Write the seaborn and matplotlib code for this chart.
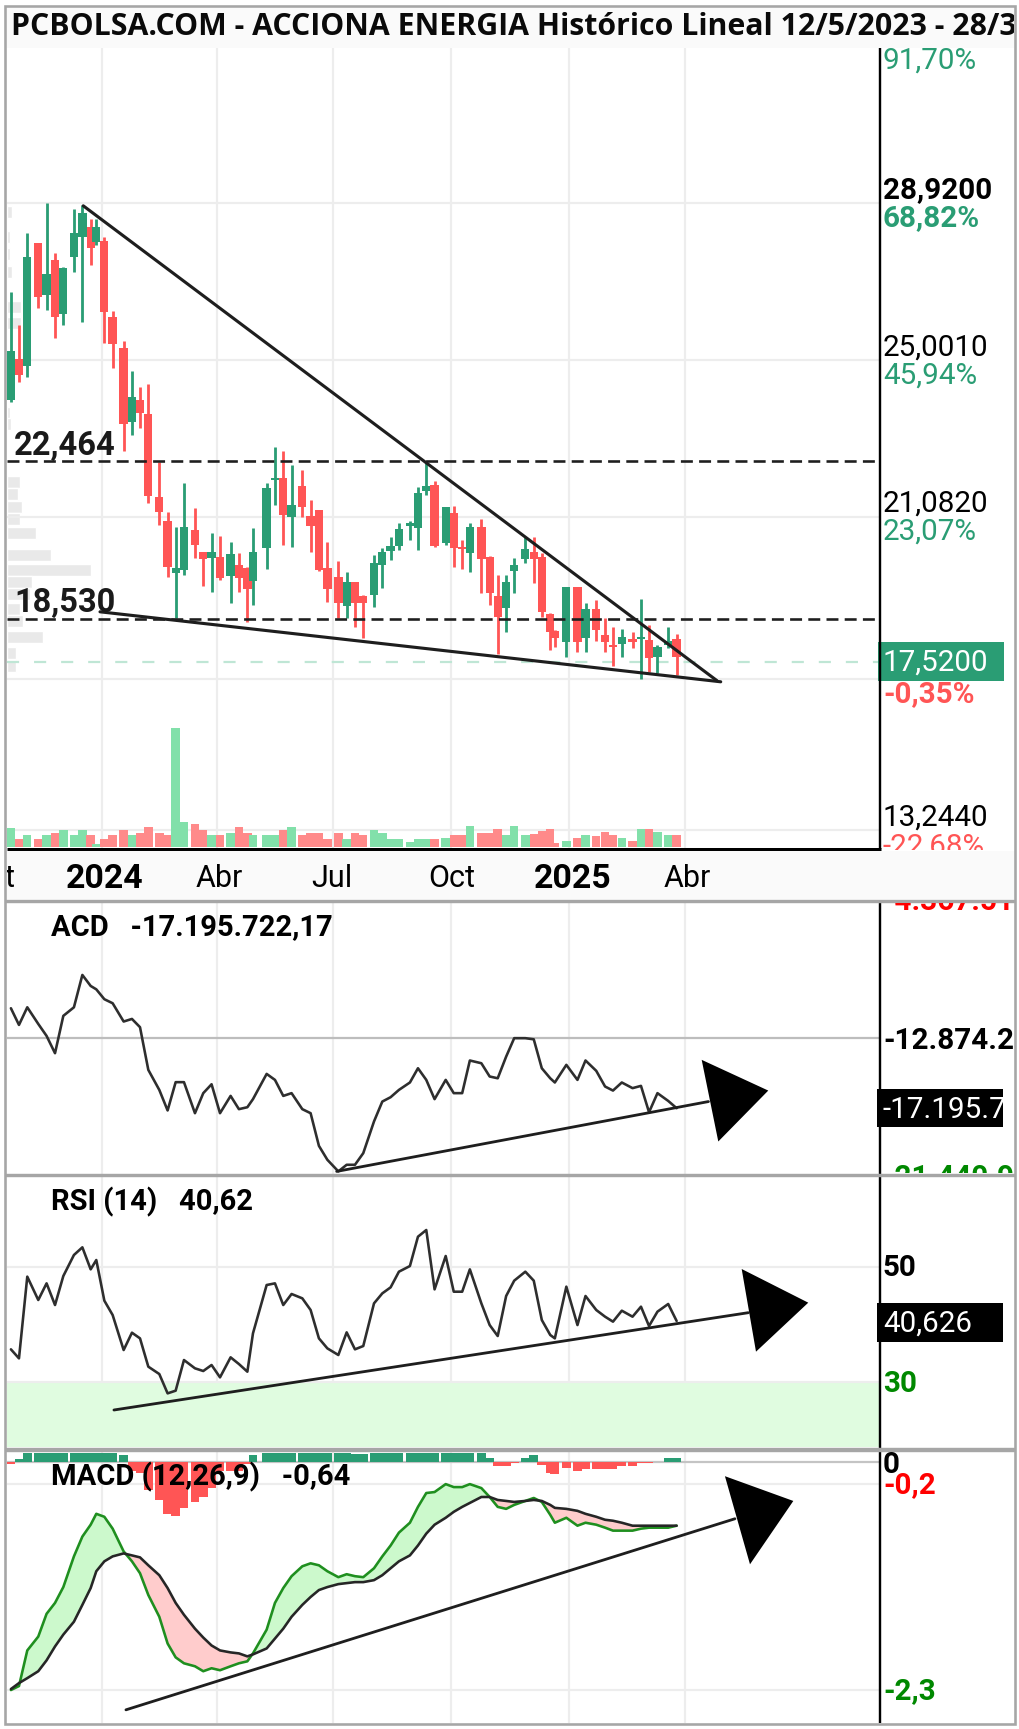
import matplotlib
matplotlib.use("Agg")
import matplotlib.pyplot as plt
from matplotlib.patches import Rectangle
import seaborn as sns
import pandas as pd

# ---------- data ----------
candle_day = [-71.5,-65.2,-58.7,-50.1,-43.6,-37,-30.5,-22.2,-15.6,-9.1,-4.7,1.6,8.1,16.7,23.2,29.5,36,44.6,51.1,57.4,
              63.9,72.5,79,85.5,92.1,100.4,106.9,113.5,117.9,128.6,135.1,141.6,148.1,156.5,163,169.5,176.1,184.7,191.2,197.7,
              204.2,212.6,219.1,225.6,232.1,240.7,247,253.5,260,268.7,275,281.6,287.6,296.6,303.1,309.4,316,322.3,331,337.6,
              343.9,350.5,354.1,363.1,371.8,378.1,386.5,393.4,399.6,406.5,414.9,421.5,427.8,434.4,442.8,449.4]
candle_up = [1,0,1,0,1,0,1,1,1,0,1,0,0,0,1,0,0,0,0,1,1,0,0,1,0,1,0,0,1,1,1,0,1,0,0,0,0,0,1,0,
             0,1,1,1,1,1,1,1,0,1,0,0,1,0,0,0,1,1,1,0,0,0,0,1,0,1,0,0,0,1,0,1,0,1,1,0]
candle_high = [26.70,25.87,28.16,27.91,28.91,27.68,27.31,28.76,28.87,28.51,28.51,28.08,26.23,25.48,24.73,24.31,24.40,22.45,21.20,20.81,
               21.91,21.29,20.20,20.66,20.60,20.45,20.16,19.83,20.79,21.91,22.81,22.73,22.37,22.25,21.50,21.25,20.45,19.98,19.70,19.45,
               19.12,20.12,20.29,20.58,20.93,20.98,21.83,22.41,21.98,21.31,21.35,20.50,20.91,21.01,20.10,19.62,19.62,20.04,20.58,20.58,
               20.16,18.66,18.25,19.33,19.33,18.91,18.99,18.54,18.33,18.26,18.20,19.01,18.37,17.87,18.33,18.14]
candle_top = [25.23,25.02,27.56,27.91,27.15,27.50,27.29,28.18,28.66,28.31,28.31,27.98,26.06,25.30,24.06,23.99,23.64,21.58,20.97,19.79,
              20.83,20.75,20.20,20.20,20.06,20.14,19.87,19.79,20.20,21.79,22.04,22.05,21.37,21.85,21.10,21.25,19.79,19.58,19.45,19.45,
              19.10,19.93,20.20,20.35,20.76,20.91,21.66,21.85,21.87,21.31,21.18,20.31,20.83,20.83,20.08,19.10,19.45,19.87,20.26,20.20,
              20.08,18.64,18.22,19.31,19.31,18.76,18.76,18.12,17.87,18.06,18.01,18.08,17.99,17.81,17.98,18.01]
candle_bot = [24.00,24.62,24.85,26.56,26.62,26.08,26.15,27.58,28.08,27.79,27.95,26.20,25.39,23.39,23.45,23.66,21.60,21.19,19.81,19.68,
              19.75,20.37,20.02,20.04,19.54,19.60,19.54,19.26,19.47,20.29,22.00,21.12,21.06,21.33,20.85,19.75,19.26,18.91,18.85,18.93,
              18.93,19.12,19.87,20.22,20.35,20.85,20.79,21.73,20.35,20.41,20.29,20.26,20.16,20.01,19.18,18.58,18.79,19.73,20.01,20.01,
              18.70,18.19,18.04,17.95,17.95,18.04,18.25,17.95,17.83,17.90,17.95,18.01,17.54,17.56,17.87,17.56]
candle_low = [23.95,24.45,24.58,26.29,26.25,25.54,25.87,27.20,25.95,27.37,27.87,25.41,24.79,22.73,23.12,23.29,21.41,20.87,19.56,18.54,
              19.62,20.04,19.35,19.20,19.50,18.93,19.20,18.45,18.87,19.76,21.37,20.37,20.33,21.08,20.20,19.73,18.95,18.54,18.54,18.33,
              18.04,18.81,19.29,19.99,20.25,20.49,20.25,21.62,20.33,20.37,19.83,19.76,19.70,19.16,18.87,17.64,18.20,19.16,19.91,19.43,
              18.58,17.75,17.83,17.58,17.70,17.70,17.98,17.70,17.35,17.58,17.79,17.01,17.20,17.16,17.79,17.12]
volume = [19,8,12,8,12,14,17,12,17,12,3,8,12,17,12,14,20,14,12,119,25,23,17,12,12,14,20,14,12,12,
          12,17,20,12,14,14,8,14,8,14,12,17,14,8,8,5,8,8,8,9,12,12,21,14,14,18,12,21,12,13,
          16,18,4,6,9,12,11,15,12,9,6,18,18,15,12,12]
profile_price = [28.70,28.08,27.65,27.19,26.33,25.93,25.00,23.66,23.39,21.94,21.65,21.33,21.02,20.66,20.12,19.75,19.44,19.15,18.77,18.48,18.06,17.66,17.35]
profile_vol = [5,3,3,5,14,14,5,3,4,13,11,15,13,29,44,84,25,23,13,16,36,9,9]

acd = [-11.02,-12.05,-10.96,-11.99,-12.73,-13.80,-11.49,-10.96,-8.96,-9.64,-9.85,-10.46,-10.71,-11.84,-11.68,-12.19,-14.83,-16.07,-17.34,-15.59,
       -15.59,-17.51,-16.27,-15.72,-17.51,-16.44,-17.26,-17.14,-16.64,-15.08,-15.45,-16.44,-16.27,-17.26,-17.51,-19.53,-20.39,-21.11,-20.70,-20.70,
       -19.98,-18.02,-16.79,-16.52,-16.07,-15.61,-14.73,-15.45,-16.64,-15.45,-16.27,-16.27,-14.25,-14.42,-15.24,-15.35,-14.01,-12.87,-12.87,-12.94,
       -14.73,-15.35,-15.61,-14.52,-15.45,-14.25,-14.89,-15.86,-16.11,-15.61,-15.96,-15.82,-17.45,-16.27,-16.75,-17.20]
rsi = [35.66,34.08,48.37,44.29,47.20,43.41,48.48,52.16,53.50,49.65,51.28,44.17,41.66,35.54,38.57,37.58,32.63,31.34,27.96,28.43,
       33.79,32.34,31.87,32.92,30.76,34.26,33.09,31.75,38.46,46.91,47.20,43.41,45.34,44.58,42.54,37.58,35.83,34.67,38.63,35.66,
       36.24,43.70,45.45,46.50,49.24,50.23,55.36,56.53,46.15,51.98,45.74,45.74,49.65,43.70,39.91,37.99,44.99,47.67,49.24,47.67,
       40.79,38.17,37.58,46.62,39.91,44.99,42.54,41.37,40.50,42.42,41.37,43.12,39.74,42.25,43.59,40.62]
macd = [-2.30,-2.26,-1.90,-1.76,-1.53,-1.42,-1.26,-0.95,-0.75,-0.63,-0.52,-0.55,-0.67,-0.90,-1.00,-1.12,-1.34,-1.56,-1.83,-1.97,
        -2.03,-2.06,-2.11,-2.08,-2.10,-2.06,-2.03,-2.01,-1.93,-1.69,-1.42,-1.27,-1.15,-1.05,-1.02,-1.04,-1.10,-1.16,-1.13,-1.15,
        -1.16,-1.07,-0.95,-0.84,-0.71,-0.61,-0.45,-0.31,-0.30,-0.22,-0.25,-0.25,-0.22,-0.26,-0.35,-0.45,-0.47,-0.43,-0.39,-0.36,
        -0.40,-0.53,-0.61,-0.56,-0.64,-0.61,-0.63,-0.66,-0.69,-0.69,-0.69,-0.67,-0.66,-0.66,-0.66,-0.64]
signal = [-2.29,-2.23,-2.18,-2.11,-2.00,-1.86,-1.74,-1.61,-1.44,-1.27,-1.10,-1.00,-0.95,-0.92,-0.94,-0.96,-1.04,-1.14,-1.27,-1.42,
          -1.54,-1.68,-1.77,-1.85,-1.90,-1.92,-1.93,-1.96,-1.94,-1.88,-1.78,-1.68,-1.56,-1.44,-1.36,-1.29,-1.26,-1.23,-1.22,-1.21,
          -1.21,-1.19,-1.14,-1.07,-1.00,-0.94,-0.84,-0.72,-0.63,-0.56,-0.50,-0.45,-0.41,-0.35,-0.35,-0.38,-0.39,-0.40,-0.39,-0.38,
          -0.39,-0.43,-0.46,-0.47,-0.49,-0.52,-0.55,-0.58,-0.59,-0.61,-0.64,-0.64,-0.64,-0.64,-0.64,-0.64]
hist = [-0.02,0.03,0.09,0.09,0.09,0.09,0.09,0.09,0.09,0.09,0.09,0.09,0.09,0.07,-0.09,-0.11,-0.28,-0.38,-0.52,-0.54,
        -0.46,-0.40,-0.35,-0.26,-0.09,-0.09,-0.09,-0.02,0.07,0.09,0.09,0.09,0.09,0.09,0.09,0.09,0.09,0.09,0.09,0.08,
        0.08,0.09,0.09,0.09,0.09,0.09,0.09,0.09,0.09,0.09,0.09,0.09,0.09,0.09,0.04,-0.04,-0.04,-0.01,0.04,0.07,
        -0.03,-0.11,-0.12,-0.06,-0.09,-0.07,-0.07,-0.07,-0.07,-0.04,-0.04,-0.01,-0.01,0,0.04,0.04]

# trend annotations (day, value)
upper_day, upper_price = [-14.9, 480.9], [28.85, 16.98]
lower_day, lower_price = [-1.8, 483.9], [18.70, 16.95]
acd_trend_day, acd_trend_val = [183.4, 474.3], [-21.11, -16.79]
acd_head_day, acd_head_val = [469, 521.1, 482], [-14.21, -16.11, -19.26]
rsi_trend_day, rsi_trend_val = [9.1, 505.5], [25.05, 42.07]
rsi_head_day, rsi_head_val = [500.3, 552.4, 511.5], [49.71, 43.82, 35.25]
macd_trend_day, macd_trend_val = [18.5, 495], [-2.50, -0.57]
macd_head_day, macd_head_val = [487.2, 540.7, 506.8], [-0.14, -0.39, -1.03]

grid_days = [0, 90, 180.5, 273, 365.5, 456]
price_grid = [28.92, 25.001, 21.082, 17.02, 13.244]
level_lines = [22.464, 18.53]
last_line = 17.45

title = "PCBOLSA.COM - ACCIONA ENERGIA Histórico Lineal 12/5/2023 - 28/3/2025"
time_labels = ["t", "2024", "Abr", "Jul", "Oct", "2025", "Abr"]

# ---------- style ----------
W, H = 1020, 1729
sns.set_theme(style="white")
plt.rcParams["font.family"] = ["Roboto", "DejaVu Sans"]
GREEN, RED = "#2a9d74", "#ff5555"
VGREEN, VRED = "#82e0aa", "#ff8a8a"
GRID = "#ededed"
DARK = "#1e1e1e"
PXDAY = 1.278
XLIM = ((7 - 102.3) / PXDAY, (880 - 102.3) / PXDAY)
fig = plt.figure(figsize=(W / 100, H / 100), dpi=100, facecolor="white")


def panel(y0, y1, ylim):
    a = fig.add_axes([7 / W, 1 - y1 / H, 873 / W, (y1 - y0) / H])
    a.set_xlim(*XLIM)
    a.set_ylim(*ylim)
    a.axis("off")
    for d in grid_days:
        a.axvline(d, color=GRID, lw=1.6, zorder=0)
    return a


def px(n):
    return n * 0.72


# ---------- main price panel ----------
ax = panel(48, 849, (12.77, 32.795))
ax.set_zorder(2)
for p in price_grid:
    ax.axhline(p, color=GRID, lw=1.6, zorder=0)

axp = ax.twiny()
axp.set_zorder(1)
axp.set_xlim(0, 873)
axp.axis("off")
axp.barh(profile_price, profile_vol, height=0.3, color="#e9e9e9", zorder=1)

for lv in level_lines:
    ax.plot(XLIM, [lv, lv], color=DARK, lw=px(2.6), dashes=(4.6, 2.4), dash_capstyle="butt", zorder=5)
ax.plot(XLIM, [last_line, last_line], color="#bfe6d5", lw=px(2.2), dashes=(5.5, 6.8), dash_capstyle="butt", zorder=2)

colors = [GREEN if u else RED for u in candle_up]
ax.vlines(candle_day, candle_low, candle_high, colors=colors, lw=px(2.8), zorder=3)
ax.bar(candle_day, [t - b for t, b in zip(candle_top, candle_bot)], bottom=candle_bot,
       width=6.5, color=colors, linewidth=0, zorder=4)

ax.plot(upper_day, upper_price, color=DARK, lw=px(3.1), zorder=6)
ax.plot(lower_day, lower_price, color=DARK, lw=px(3.1), zorder=6)

axv = ax.twinx()
axv.set_zorder(3)
axv.set_ylim(-2, 799)
axv.axis("off")
vcolors = [VGREEN if u else VRED for u in candle_up]
axv.bar(candle_day, volume, width=6.6, color=vcolors, linewidth=0)

# ---------- ACD ----------
a1 = panel(903, 1174, (-21.27, -4.51))
a1.axhline(-12.874, color="#bdbdbd", lw=1.6, zorder=1)
sns.lineplot(x=candle_day, y=acd, ax=a1, color="#2e2e2e", lw=px(2.6), errorbar=None, sort=False, estimator=None, zorder=3)
a1.plot(acd_trend_day, acd_trend_val, color=DARK, lw=px(2.8), zorder=4)
a1.fill(acd_head_day, acd_head_val, color="black", lw=0, zorder=5)
a1.set_xlim(*XLIM)
a1.axis("off")

# ---------- RSI ----------
a2 = panel(1177, 1447, (18.58, 65.8))
a2.axhspan(18.58, 30, color="#e0fce0", lw=0, zorder=0.5)
for v in [50, 30]:
    a2.axhline(v, color=GRID, lw=1.6, zorder=1)
sns.lineplot(x=candle_day, y=rsi, ax=a2, color="#2e2e2e", lw=px(2.6), errorbar=None, sort=False, estimator=None, zorder=3)
a2.plot(rsi_trend_day, rsi_trend_val, color=DARK, lw=px(2.8), zorder=4)
a2.fill(rsi_head_day, rsi_head_val, color="black", lw=0, zorder=5)
a2.set_xlim(*XLIM)
a2.axis("off")

# ---------- MACD ----------
a3 = panel(1452, 1723, (-2.633, 0.1044))
a3.axhline(0, color="#c4c4c4", lw=1.6, zorder=1)
for v in [-0.22, -2.3]:
    a3.axhline(v, color=GRID, lw=1.6, zorder=1)
a3.bar(candle_day, hist, width=6.9, color=[GREEN if h > 0 else RED for h in hist], linewidth=0, zorder=2)
a3.fill_between(candle_day, macd, signal, where=[m >= s for m, s in zip(macd, signal)],
                color="#ccf9cc", lw=0, interpolate=True, zorder=2)
a3.fill_between(candle_day, macd, signal, where=[m <= s for m, s in zip(macd, signal)],
                color="#ffcccc", lw=0, interpolate=True, zorder=2)
sns.lineplot(x=candle_day, y=macd, ax=a3, color="#1f8f1f", lw=px(2.6), errorbar=None, sort=False, estimator=None, zorder=3)
sns.lineplot(x=candle_day, y=signal, ax=a3, color="#262626", lw=px(2.6), errorbar=None, sort=False, estimator=None, zorder=3)
a3.plot(macd_trend_day, macd_trend_val, color=DARK, lw=px(2.8), zorder=4)
a3.fill(macd_head_day, macd_head_val, color="black", lw=0, zorder=5)
a3.set_xlim(*XLIM)
a3.axis("off")

# ---------- overlay: frames, bands and all text ----------
ov = fig.add_axes([0, 0, 1, 1], zorder=10)
ov.set_xlim(0, W)
ov.set_ylim(H, 0)
ov.axis("off")
ov.patch.set_visible(False)


def label(x, y, s, color="black", size=21.3, weight="normal", ha="left", clip=None, family=None):
    t = ov.text(x, y, s, color=color, fontsize=size, fontweight=weight, ha=ha, va="center_baseline",
                family=family or ["Roboto", "DejaVu Sans"], zorder=8)
    if clip:
        x0, y0, x1, y1 = clip
        t.set_clip_path(Rectangle((x0, y0), x1 - x0, y1 - y0, transform=ov.transData))
        t.set_clip_on(True)
    return t


RX = 883
SIDE = (882, 48, 1013, 849)
label(RX, 58, "91,70%", GREEN, clip=SIDE)
label(RX, 187, "28,9200", "black", weight="bold")
label(RX, 215, "68,82%", GREEN, weight="bold")
label(RX, 345, "25,0010", "black")
label(RX, 373, "45,94%", GREEN)
label(RX, 501, "21,0820", "black")
label(RX, 529, "23,07%", GREEN)
label(RX, 815, "13,2440", "black")
label(RX, 844, "-22,68%", RED, clip=(882, 800, 1013, 850))


def rect(x0, y0, x1, y1, color, z=2):
    ov.add_patch(Rectangle((x0, y0), x1 - x0, y1 - y0, facecolor=color, edgecolor="none", zorder=z))


rect(878, 642, 1004, 681, GREEN, 3)
label(RX, 660, "17,5200", "white")
label(RX, 691, "-0,35%", RED, weight="bold")

label(14, 442, "22,464", "#1a1a1a", 23.5, "bold")
label(14, 599, "18,530", "#1a1a1a", 23.5, "bold")

# bands
rect(7, 8, 1014, 48, "#fafafa")
label(11, 23.5, title, "#0a0a0a", 21.8, "bold", clip=(7, 8, 1014, 48), family=["Open Sans", "DejaVu Sans"])
rect(7, 851, 1015, 899, "#fafafa")
TB = (7, 851, 1015, 899)
label(5, 875, time_labels[0], "black", 22, clip=TB)
label(105, 875, time_labels[1], "black", 24.4, "bold", ha="center")
label(219, 875, time_labels[2], "black", 22, ha="center")
label(332, 875, time_labels[3], "black", 22, ha="center")
label(452, 875, time_labels[4], "black", 22, ha="center")
label(572.5, 875, time_labels[5], "black", 24.4, "bold", ha="center")
label(687, 875, time_labels[6], "black", 22, ha="center")

# panel titles
label(51, 924, "ACD   -17.195.722,17", "black", 21, "bold")
label(51, 1198.5, "RSI (14)   40,62", "black", 21, "bold")
label(51, 1474, "MACD (12,26,9)   -0,64", "black", 21, "bold")

# indicator axis labels
P1 = (882, 903, 1013, 1173)
label(RX, 899, "-4.367.510", "#ff0000", weight="bold", clip=P1)
label(RX, 1038, "-12.874.280", "black", weight="bold", clip=P1)
label(RX, 1175, "-21.440.900", "#008800", weight="bold", clip=P1)
rect(877, 1089, 1003, 1127, "black", 3)
label(RX, 1107, "-17.195.722", "white", clip=(877, 1089, 1003, 1127))
label(RX, 1265, "50", "black", weight="bold")
rect(877, 1303, 1003, 1342, "black", 3)
label(RX, 1321, "40,626", "white")
label(RX, 1381, "30", "#008800", weight="bold")
label(RX, 1462, "0", "black", weight="bold")
label(RX, 1482, "-0,2", "#ff0000", weight="bold")
label(RX, 1688, "-2,3", "#008800", weight="bold")

# axis lines
for y0, y1 in [(48, 849), (900, 1175), (1175, 1449), (1449, 1723)]:
    ov.plot([880, 880], [y0, y1], color="black", lw=px(2.4), zorder=6, solid_capstyle="butt")
ov.plot([7, 881], [849, 849], color="black", lw=px(3), zorder=6, solid_capstyle="butt")

# frame and separators
FRAME = "#a6a6a6"
for y, w in [(900.5, 3.4), (1174.5, 3.4), (1449.5, 4.4)]:
    ov.plot([5, 1015], [y, y], color=FRAME, lw=px(w), zorder=7, solid_capstyle="butt")
ov.add_patch(Rectangle((5.5, 5.5), 1009.5, 1718, fill=False, edgecolor=FRAME, lw=px(2.6), zorder=7))

fig.savefig("out.png", dpi=100, facecolor="white")
